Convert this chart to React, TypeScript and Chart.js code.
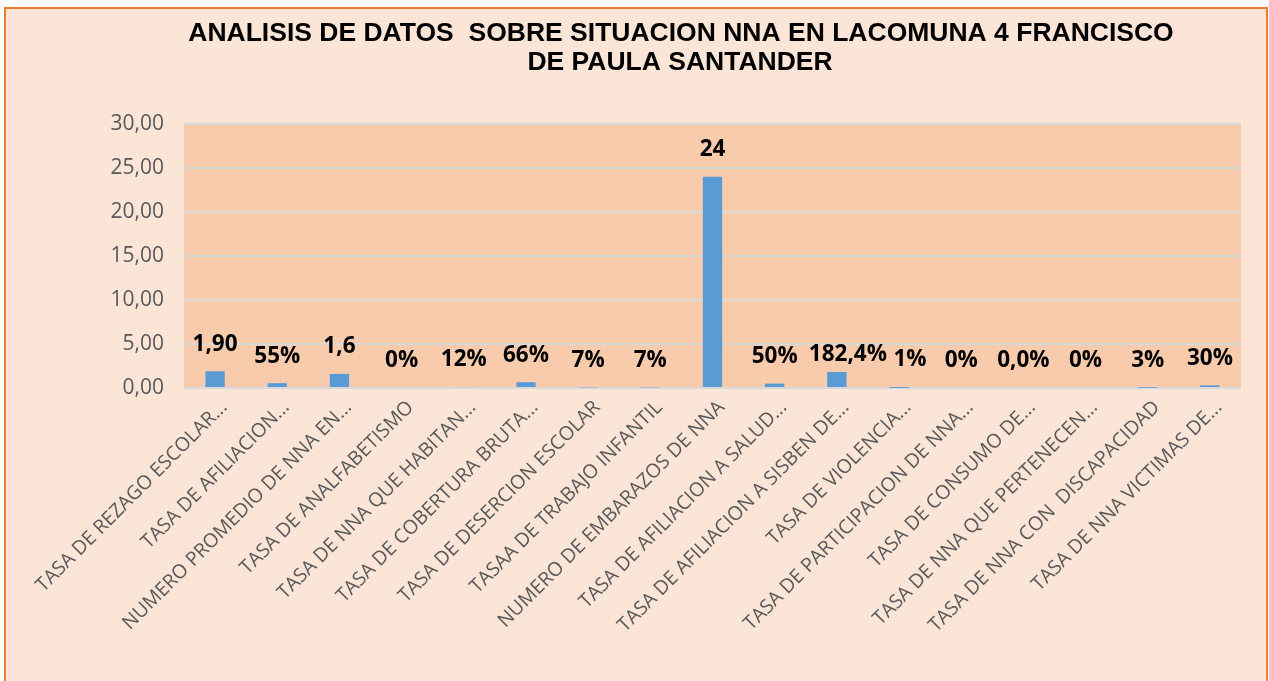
import React, { useEffect, useRef } from "react";
import { Chart, registerables } from "chart.js";

Chart.register(...registerables);

const categories = [
  "TASA DE REZAGO ESCOLAR...",
  "TASA DE AFILIACION...",
  "NUMERO PROMEDIO DE NNA EN...",
  "TASA DE ANALFABETISMO",
  "TASA DE NNA QUE HABITAN...",
  "TASA DE COBERTURA BRUTA...",
  "TASA DE DESERCION ESCOLAR",
  "TASAA DE TRABAJO INFANTIL",
  "NUMERO DE EMBARAZOS DE NNA",
  "TASA DE AFILIACION A SALUD...",
  "TASA DE AFILIACION A SISBEN DE...",
  "TASA DE VIOLENCIA...",
  "TASA DE PARTICIPACION DE NNA...",
  "TASA DE CONSUMO DE...",
  "TASA DE NNA QUE PERTENECEN...",
  "TASA DE NNA CON  DISCAPACIDAD",
  "TASA DE NNA VICTIMAS DE...",
];

const values = [1.9, 0.55, 1.6, 0, 0.12, 0.66, 0.07, 0.07, 24, 0.5, 1.824, 0.01, 0, 0, 0, 0.03, 0.3];

const valueLabels = ["1,90", "55%", "1,6", "0%", "12%", "66%", "7%", "7%", "24", "50%", "182,4%", "1%", "0%", "0,0%", "0%", "3%", "30%"];

const titleLines = [
  "ANALISIS DE DATOS  SOBRE SITUACION NNA EN LACOMUNA 4 FRANCISCO",
  "DE PAULA SANTANDER",
];

const yMin = 0;
const yMax = 30;
const yStep = 5;

const W = 1269;
const H = 681;

export default function App() {
  const ref = useRef<HTMLCanvasElement | null>(null);

  useEffect(() => {
    const canvas = ref.current;
    if (!canvas) return;

    // manual label nudges (x, y) as in the original chart
    const nudge: Record<number, [number, number]> = { 10: [11, 10], 11: [11, -1] };

    const bgPlugin = {
      id: "bgPlugin",
      beforeDraw(chart: any) {
        const ctx = chart.ctx;
        ctx.save();
        ctx.fillStyle = "#ffffff";
        ctx.fillRect(0, 0, W, H);
        ctx.fillStyle = "#FBE5D6";
        ctx.fillRect(5, 8, 1262, 700);
        ctx.strokeStyle = "#ED7D31";
        ctx.lineWidth = 2;
        ctx.strokeRect(5, 8, 1262, 700);
        const a = chart.chartArea;
        ctx.fillStyle = "#F8CBAD";
        ctx.fillRect(a.left, a.top, a.right - a.left, a.bottom - a.top);
        ctx.fillStyle = "#000000";
        ctx.font = "bold 26.5px 'Liberation Sans', Arial, sans-serif";
        ctx.textAlign = "center";
        ctx.textBaseline = "middle";
        ctx.fillText(titleLines[0], 681, 34);
        ctx.fillText(titleLines[1], 680, 63);
        ctx.restore();
      },
    };

    const labelPlugin = {
      id: "labelPlugin",
      afterDatasetsDraw(chart: any) {
        const ctx = chart.ctx;
        const meta = chart.getDatasetMeta(0);
        ctx.save();
        ctx.fillStyle = "#000000";
        ctx.font = "bold 22.5px 'Open Sans', sans-serif";
        ctx.textAlign = "center";
        ctx.textBaseline = "middle";
        meta.data.forEach((el: any, i: number) => {
          const [dx, dy] = nudge[i] || [0, 0];
          ctx.fillText(valueLabels[i], el.x + dx, el.y - 27 + dy);
        });
        ctx.restore();
      },
    };

    const chart = new Chart(canvas, {
      type: "bar",
      data: {
        labels: categories,
        datasets: [
          {
            data: values,
            backgroundColor: "#5B9BD5",
            borderWidth: 0,
            categoryPercentage: 1,
            barPercentage: 0.31,
          },
        ],
      },
      options: {
        responsive: false,
        animation: false,
        layout: { padding: { top: 124, right: 28, left: 0, bottom: 0 } },
        plugins: {
          legend: { display: false },
          title: { display: false },
          tooltip: { enabled: false },
        },
        scales: {
          x: {
            grid: { display: false },
            border: { display: false },
            ticks: {
              autoSkip: false,
              maxRotation: 45,
              minRotation: 45,
              color: "#595959",
              font: { family: "'Open Sans', sans-serif", size: 19.5 },
              padding: 0,
              labelOffset: 9,
            },
            afterFit(scale: any) {
              scale.height = 293;
            },
          },
          y: {
            min: yMin,
            max: yMax,
            ticks: {
              stepSize: yStep,
              color: "#595959",
              font: { family: "'Open Sans', sans-serif", size: 21 },
              padding: 20,
              callback: (v: any) => Number(v).toFixed(2).replace(".", ","),
            },
            grid: { color: "#D9D9D9", lineWidth: 2, drawTicks: false },
            border: { display: false },
            afterFit(scale: any) {
              scale.width = 184;
            },
          },
        },
      },
      plugins: [bgPlugin, labelPlugin],
    });

    return () => chart.destroy();
  }, []);

  return (
    <div style={{ position: "absolute", left: 0, top: 0, width: W, height: H }}>
      <canvas ref={ref} width={W} height={H} style={{ width: W, height: H }} />
    </div>
  );
}
